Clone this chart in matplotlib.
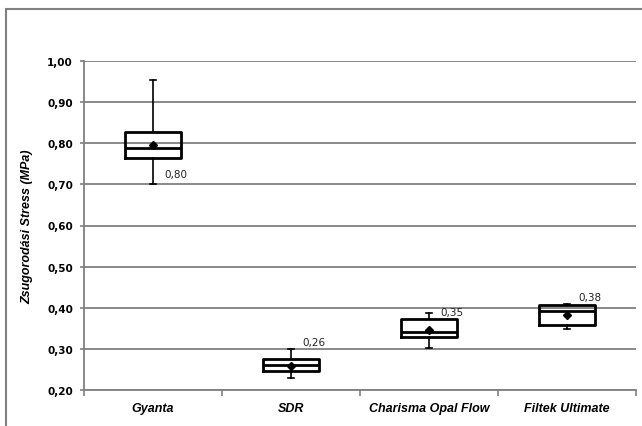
import matplotlib
matplotlib.use("Agg")
import matplotlib.pyplot as plt
from matplotlib.patches import Rectangle

# adatok (leolvasva a grafikonrol)
kategoriak = ["Gyanta", "SDR", "Charisma Opal Flow", "Filtek Ultimate"]
also_bajusz = [0.701, 0.229, 0.301, 0.348]
q1 = [0.765, 0.246, 0.329, 0.357]
median = [0.788, 0.262, 0.341, 0.392]
q3 = [0.827, 0.275, 0.372, 0.406]
felso_bajusz = [0.955, 0.299, 0.388, 0.410]
atlag = [0.796, 0.259, 0.346, 0.382]
cimkek = ["0,80", "0,26", "0,35", "0,38"]

# cimke eltolasok (x kategoria egysegben, y adat egysegben)
cimke_dx = [0.08, 0.08, 0.08, 0.08]
cimke_y = [0.725, 0.316, 0.39, 0.427]

stats = []
for i in range(len(kategoriak)):
    stats.append(dict(label=kategoriak[i], whislo=also_bajusz[i], q1=q1[i],
                      med=median[i], q3=q3[i], whishi=felso_bajusz[i],
                      mean=atlag[i], fliers=[]))

fig = plt.figure(figsize=(6.42, 4.27), dpi=100)
ax = fig.add_axes([84/642, 1-391/427, 552/642, 329/427])

poz = list(range(1, len(kategoriak)+1))
ax.bxp(stats, positions=poz, widths=0.4, showmeans=True, showfliers=False,
       boxprops=dict(color="black", linewidth=2),
       medianprops=dict(color="black", linewidth=2),
       whiskerprops=dict(color="black", linewidth=1.2),
       capprops=dict(color="black", linewidth=1.2),
       meanprops=dict(marker="D", markerfacecolor="black",
                      markeredgecolor="black", markersize=4.5),
       capwidths=0.05, zorder=3)

for i in range(len(kategoriak)):
    ax.text(poz[i] + cimke_dx[i], cimke_y[i], cimkek[i], fontsize=7.5,
            family="DejaVu Sans", ha="left", va="center", color="#222222")

ax.set_ylim(0.20, 1.00)
ax.set_xlim(0.5, len(kategoriak) + 0.5)
yt = [0.2 + 0.1*k for k in range(9)]
ax.set_yticks(yt)
ax.set_yticklabels([f"{v:.2f}".replace(".", ",") for v in yt],
                   fontsize=7.5, fontweight="bold", family="DejaVu Sans")
ax.yaxis.grid(True, color="#808080", linewidth=1.3)
ax.set_axisbelow(True)

ax.set_xticks(poz)
ax.set_xticklabels(kategoriak, fontsize=9, fontweight="bold",
                   fontstyle="italic", family="Liberation Sans")
ax.set_xticks([p - 0.5 for p in poz] + [poz[-1] + 0.5], minor=True)
ax.tick_params(axis="x", which="major", length=0, pad=9)
ax.tick_params(axis="x", which="minor", length=4, color="#808080", width=1.2)
ax.tick_params(axis="y", length=3, color="#808080", width=1.2, pad=5)

for s in ["top", "right"]:
    ax.spines[s].set_visible(False)
for s in ["left", "bottom"]:
    ax.spines[s].set_color("#808080")
    ax.spines[s].set_linewidth(1.3)

ax.set_ylabel("Zsugorodási Stress (MPa)", fontsize=9, fontweight="bold",
              fontstyle="italic", family="Liberation Sans", labelpad=10)

# kulso keret
fig.patches.append(Rectangle((6/642, -0.1), 1.2, 1.1 - 9.5/427, transform=fig.transFigure,
                             fill=False, edgecolor="#808080", linewidth=1.5))

fig.savefig("out.png", dpi=100)
